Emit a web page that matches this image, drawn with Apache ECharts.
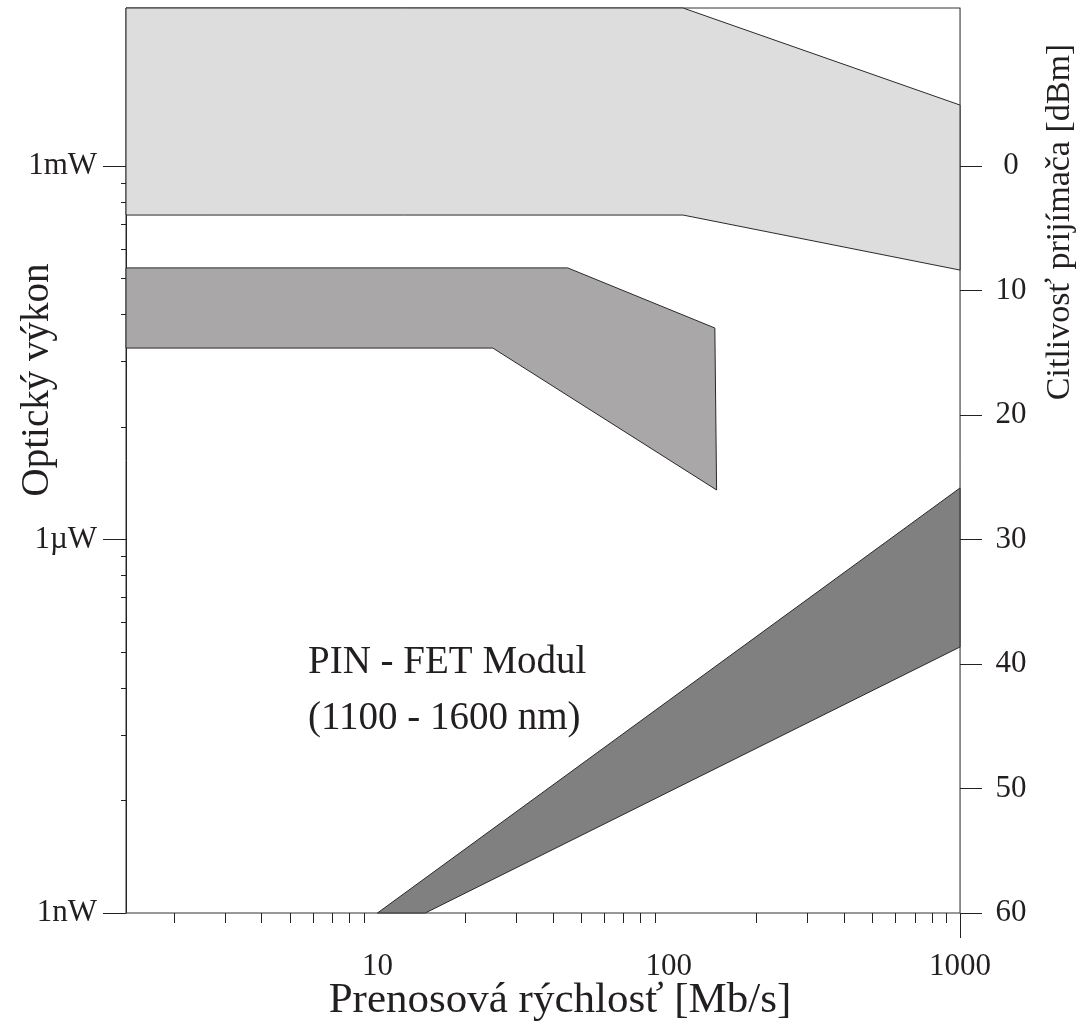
<!DOCTYPE html>
<html>
<head>
<meta charset="utf-8">
<script src="https://cdn.jsdelivr.net/npm/echarts@6/dist/echarts.min.js"></script>
<style>
  html, body { margin: 0; padding: 0; background: #fff; }
  #chart { width: 1086px; height: 1034px; }
</style>
</head>
<body>
<div id="chart"></div>
<script>
// axis ranges (x: Mb/s, y: nW, right: dBm sensitivity)
const xMin = 1.37, xMax = 1000;
const yMin = 1, yMax = 1.86e7;
const dbmMin = -12.7, dbmMax = 60;

// tick lists
const xLabelTicks = [10, 100, 1000];
const xMajorTicks = [10, 100];
const xMinorTicks = [2, 3, 4, 5, 6, 7, 8, 9].flatMap(k => [k, k * 10, k * 100]);
const yMajorTicks = [1, 1000, 1e6];
const yMajorLabels = { 1: '1nW', 1000: '1µW', 1000000: '1mW' };
const yMinorTicks = [8, 27, 64, 125, 216, 343, 512, 729].flatMap(k => [k, k * 1000]);
const dbmTicks = [0, 10, 20, 30, 40, 50, 60];

// bands: [rate Mb/s, power nW]
const lightBand = [[1.37, 1.86e7], [112, 1.86e7], [1000, 3.09e6], [1000, 1.46e5], [112, 4.04e5], [1.37, 4.04e5]];
const midBand = [[1.37, 1.52e5], [45, 1.52e5], [144, 5.0e4], [146, 2500], [24.9, 3.45e4], [1.37, 3.45e4]];
const darkBand = [[10, 1], [1000, 2594], [1000, 137], [14.6, 1]];

const FONT = '"Liberation Serif", "Times New Roman", serif';
const TXT = '#231f20';

const chart = echarts.init(document.getElementById('chart'));

function bandSeries(points, fill) {
  return {
    type: 'custom',
    xAxisIndex: 0,
    yAxisIndex: 0,
    data: points,
    encode: { x: 0, y: 1 },
    silent: true,
    renderItem: function (params, api) {
      if (params.dataIndex !== 0) return;
      const pts = points.map(p => api.coord(p));
      return {
        type: 'polygon',
        shape: { points: pts },
        style: { fill: fill, stroke: '#2a2a2a', lineWidth: 1 }
      };
    }
  };
}

const xBase = { type: 'log', min: xMin, max: xMax, position: 'bottom', splitLine: { show: false }, gridIndex: 0 };
const yBase = { type: 'log', min: yMin, max: yMax, position: 'left', splitLine: { show: false }, gridIndex: 0 };

const option = {
  animation: false,
  backgroundColor: '#fff',
  grid: { left: 126, right: 126, top: 8, bottom: 121, containLabel: false, outerBoundsMode: 'none',
          show: true, borderColor: '#333', borderWidth: 1, backgroundColor: 'transparent' },
  xAxis: [
    Object.assign({}, xBase, {
      axisLine: { show: true, lineStyle: { color: '#777', width: 1 } },
      axisTick: { show: true, length: 16, customValues: xMajorTicks, lineStyle: { color: '#222' } },
      axisLabel: { show: true, customValues: xLabelTicks, margin: 38, fontFamily: FONT, fontSize: 31, color: TXT,
                   formatter: v => String(Math.round(v)) }
    }),
    Object.assign({}, xBase, {
      axisLine: { show: false },
      axisTick: { show: true, length: 10, customValues: xMinorTicks, lineStyle: { color: '#222' } },
      axisLabel: { show: false }
    }),
    Object.assign({}, xBase, {
      axisLine: { show: false },
      axisTick: { show: true, length: 25, customValues: [1000], lineStyle: { color: '#222' } },
      axisLabel: { show: false }
    })
  ],
  yAxis: [
    Object.assign({}, yBase, {
      axisLine: { show: true, lineStyle: { color: '#222', width: 1 } },
      axisTick: { show: true, length: 23, customValues: yMajorTicks, lineStyle: { color: '#222' } },
      axisLabel: { show: true, customValues: yMajorTicks, margin: 29, fontFamily: FONT, fontSize: 31, color: TXT,
                   formatter: v => yMajorLabels[Math.round(v)] || '' }
    }),
    Object.assign({}, yBase, {
      axisLine: { show: false },
      axisTick: { show: true, length: 5, customValues: yMinorTicks, lineStyle: { color: '#222' } },
      axisLabel: { show: false }
    }),
    {
      type: 'value', position: 'right', inverse: true, min: dbmMin, max: dbmMax, gridIndex: 0,
      splitLine: { show: false },
      axisLine: { show: true, lineStyle: { color: '#888', width: 1 } },
      axisTick: { show: true, length: 22, customValues: dbmTicks, lineStyle: { color: '#222' } },
      axisLabel: { show: true, customValues: dbmTicks, margin: 51, align: 'center', fontFamily: FONT, fontSize: 31, color: TXT }
    }
  ],
  series: [
    bandSeries(lightBand, '#dddddd'),
    bandSeries(midBand, '#a9a7a8'),
    bandSeries(darkBand, '#808080')
  ],
  graphic: [
    { type: 'text', x: 38, y: 380, rotation: Math.PI / 2, silent: true,
      style: { text: 'Optický výkon', fontFamily: FONT, fontSize: 39, fill: TXT, align: 'center', verticalAlign: 'middle' } },
    { type: 'text', x: 1060, y: 222, rotation: Math.PI / 2, silent: true,
      style: { text: 'Citlivosť prijímača [dBm]', fontFamily: FONT, fontSize: 34, fill: TXT, align: 'center', verticalAlign: 'middle' } },
    { type: 'text', x: 560, y: 1001, silent: true,
      style: { text: 'Prenosová rýchlosť [Mb/s]', fontFamily: FONT, fontSize: 43, fill: TXT, align: 'center', verticalAlign: 'middle' } },
    { type: 'text', x: 308, y: 663, silent: true,
      style: { text: 'PIN - FET Modul', fontFamily: FONT, fontSize: 39, fill: TXT, align: 'left', verticalAlign: 'middle' } },
    { type: 'text', x: 308, y: 719, silent: true,
      style: { text: '(1100 - 1600 nm)', fontFamily: FONT, fontSize: 39, fill: TXT, align: 'left', verticalAlign: 'middle' } }
  ]
};

chart.setOption(option);
</script>
</body>
</html>
